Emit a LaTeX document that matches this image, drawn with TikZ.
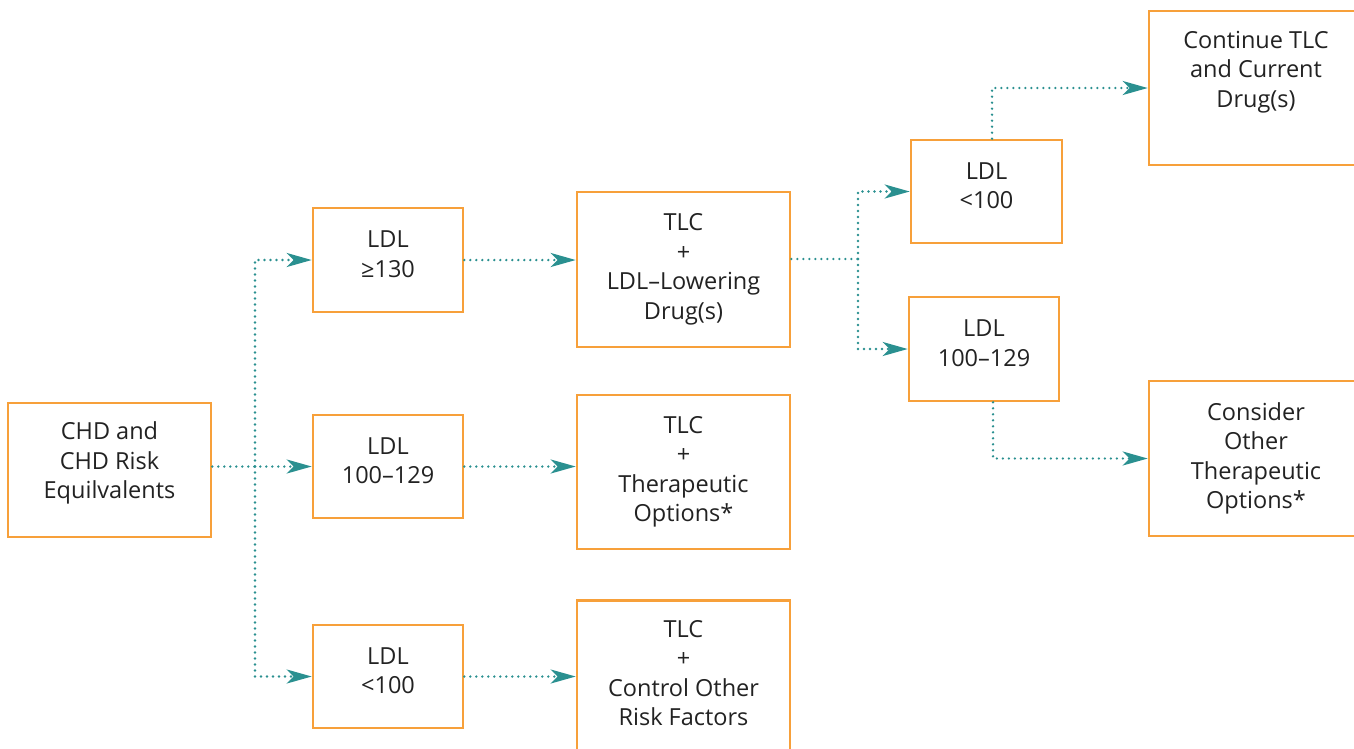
\documentclass[tikz,border=0pt]{standalone}
\usepackage{fontspec}
\setmainfont{Open Sans}
\usetikzlibrary{arrows.meta}
\definecolor{boxorange}{HTML}{F7A03A}
\definecolor{teal}{HTML}{2A9090}
\definecolor{txt}{HTML}{222222}
\tikzset{
  box/.style={draw=boxorange, line width=2.6pt, text=txt, align=center,
    inner sep=0pt, font=\fontsize{23.5}{29.5}\selectfont},
  lbl/.style={text=txt, align=center, inner sep=0pt, font=\fontsize{23.5}{29.5}\selectfont},
  conn/.style={draw=teal, line width=2.6pt, line cap=round,
    dash pattern=on 0pt off 6pt,
    -{Stealth[length=25pt,width=14pt,inset=7pt,line cap=butt,line join=miter,sep=0pt]}},
  link/.style={draw=teal, line width=2.6pt, line cap=round, dash pattern=on 0pt off 6pt}
}
\begin{document}
\begin{tikzpicture}[x=1pt,y=-1pt]
\useasboundingbox (0,0) rectangle (1354,748);
% boxes
\node[box, minimum width=203pt, minimum height=134pt,
  label={[lbl,yshift=7pt]center:{CHD and\\CHD Risk\\Equilvalents}}] (chd) at (109.5,470) {};
\node[box, minimum width=150pt, minimum height=104pt,
  label={[lbl,yshift=6pt]center:{LDL\\≥130}}] (l1) at (388,260) {};
\node[box, minimum width=150pt, minimum height=103pt,
  label={[lbl,yshift=6pt]center:{LDL\\100–129}}] (l2) at (388,466.5) {};
\node[box, minimum width=150pt, minimum height=103pt,
  label={[lbl,yshift=6pt]center:{LDL\\<100}}] (l3) at (388,676.5) {};
\node[box, minimum width=213pt, minimum height=155pt] (t1) at (683.5,269.5) {TLC\\+\\LDL–Lowering\\Drug(s)};
\node[box, minimum width=213pt, minimum height=154pt] (t2) at (683.5,472) {TLC\\+\\Therapeutic\\Options*};
\node[box, minimum width=213pt, minimum height=162pt, anchor=north] (t3) at (683.5,599) {};
\node[lbl, anchor=north] (t3txt) at (683.5,620) {TLC\\+\\Control Other\\Risk Factors};
\node[box, minimum width=151pt, minimum height=103pt,
  label={[lbl,yshift=6pt]center:{LDL\\<100}}] (r1) at (986.5,191.5) {};
\node[box, minimum width=150pt, minimum height=104pt,
  label={[lbl,yshift=6pt]center:{LDL\\100–129}}] (r2) at (984,349) {};
\node[box, minimum width=214pt, minimum height=154pt] (c1) at (1256,88) {};
\node[lbl] (c1txt) at (1256,72) {Continue TLC\\and Current\\Drug(s)};
\node[box, minimum width=214pt, minimum height=155pt] (c2) at (1256,458.5) {Consider\\Other\\Therapeutic\\Options*};
% connectors
\coordinate (j1) at (255,466.5);
\coordinate (j2) at (858,259);
\draw[conn] (chd.east |- l2.west) -- (l2.west);
\draw[conn] (j1) |- (l1.west);
\draw[conn] (j1) |- (l3.west);
\draw[conn] (l1.east) -- (l1.east -| t1.west);
\draw[conn] (l2.east) -- (l2.east -| t2.west);
\draw[conn] (l3.east) -- (l3.east -| t3.west);
\draw[link] (j2 -| t1.east) -- (j2);
\draw[conn] (j2) |- (r1.west);
\draw[conn] (j2) |- (r2.west);
\draw[conn] ([xshift=5.5pt]r1.north) |- (c1.west);
\draw[conn] ([xshift=9pt]r2.south) |- (c2.west);
\end{tikzpicture}
\end{document}
